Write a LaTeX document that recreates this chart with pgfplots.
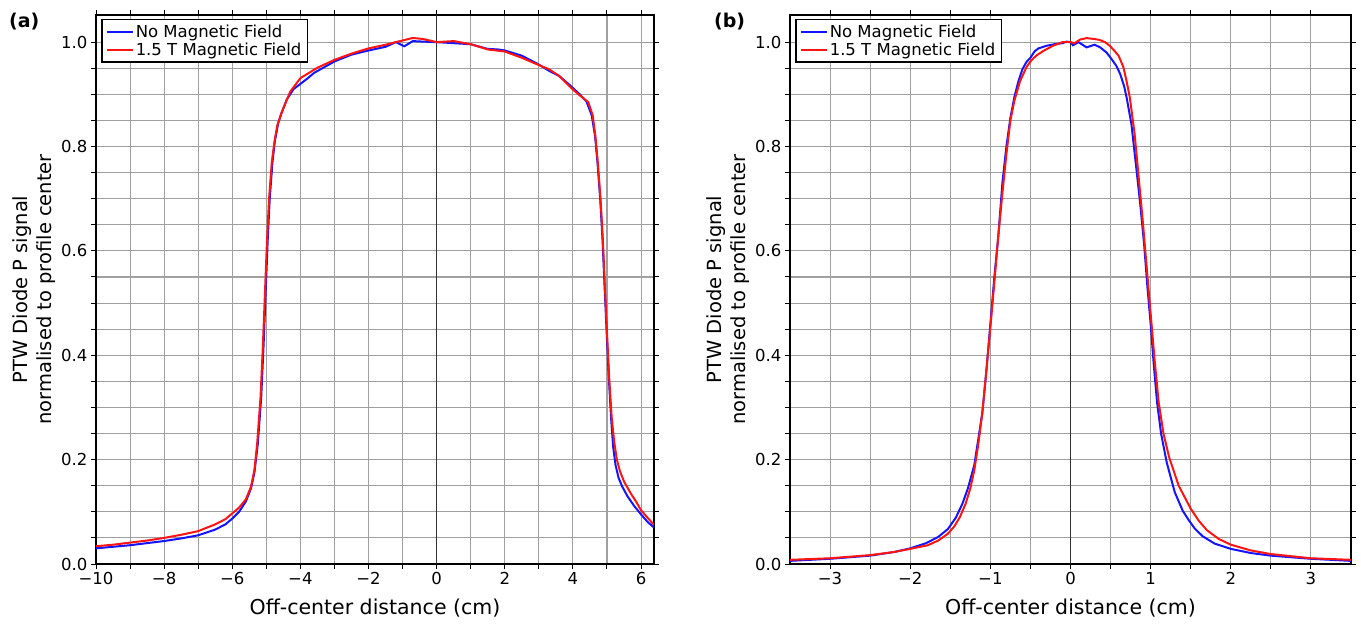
\documentclass[border=0pt]{standalone}
\usepackage{fontspec}
\setmainfont{DejaVu Sans}
\usepackage{pgfplots}
\pgfplotsset{compat=1.18}
\definecolor{pblue}{RGB}{20,20,255}
\definecolor{pred}{RGB}{255,20,20}
\definecolor{gridgray}{RGB}{160,160,160}
\pgfplotsset{
  panel/.style={
    scale only axis, height=549pt,
    ymin=0, ymax=1.052,
    ytick={0,0.2,0.4,0.6,0.8,1}, yticklabels={0.0,0.2,0.4,0.6,0.8,1.0},
    minor y tick num=3,
    grid=both,
    major grid style={gridgray, line width=1.1pt},
    minor grid style={gridgray, line width=1.1pt},
    tick align=outside,
    major tick length=5pt, minor tick length=5pt,
    every tick/.style={black, line width=1pt},
    axis line style={black, line width=1.5pt},
    ticklabel style={font=\fontsize{16.5}{19}\selectfont},
    every axis x label/.style={at={(axis description cs:0.5,0)}, yshift=-44pt, anchor=center, font=\fontsize{20.5}{24}\selectfont},
    every axis y label/.style={at={(axis description cs:0,0.5)}, xshift=-62pt, rotate=90, anchor=center, align=center, font=\fontsize{19.5}{23.5}\selectfont},
    extra x ticks={0}, extra x tick labels={},
    extra x tick style={grid=major, major grid style={black!80, line width=1pt}},
    legend style={at={(0,1)}, anchor=north west, xshift=5pt, yshift=-4pt, draw=black, line width=1.5pt,
      font=\fontsize{16.5}{19}\selectfont, inner xsep=4pt, inner ysep=3pt, row sep=0pt, cells={anchor=west}},
    legend image code/.code={\draw[#1] (0pt,0pt) -- (26pt,0pt);},
    xlabel={Off-center distance (cm)},
    ylabel={PTW Diode P signal\\normalised to profile center},
  }
}
\begin{document}
\begin{tikzpicture}
\useasboundingbox (0,0) rectangle (1361pt,627pt);
\begin{axis}[panel, at={(96pt,63pt)}, anchor=south west, width=558pt,
  xmin=-10, xmax=6.38,
  xtick={-10,-8,-6,-4,-2,0,2,4,6}, xticklabels={−10,−8,−6,−4,−2,0,2,4,6},
  minor x tick num=1]
\addplot[pblue, line width=2pt] table {
x y
-10 0.030
-9.5 0.033
-9 0.036
-8.5 0.040
-8 0.044
-7.5 0.049
-7 0.055
-6.5 0.066
-6.2 0.076
-6 0.087
-5.8 0.100
-5.6 0.120
-5.45 0.145
-5.35 0.175
-5.25 0.23
-5.15 0.32
-5.08 0.42
-5.02 0.52
-4.96 0.62
-4.9 0.70
-4.82 0.77
-4.75 0.81
-4.65 0.845
-4.55 0.865
-4.4 0.89
-4.2 0.91
-4.0 0.920
-3.8 0.930
-3.6 0.941
-3.3 0.952
-3.0 0.963
-2.5 0.976
-2.0 0.984
-1.5 0.991
-1.2 1.000
-0.95 0.992
-0.7 1.002
-0.4 1.001
0 1.0
0.5 0.998
1.0 0.996
1.5 0.987
1.8 0.986
2.0 0.984
2.5 0.974
3.0 0.957
3.3 0.945
3.6 0.935
3.9 0.918
4.0 0.912
4.2 0.900
4.4 0.886
4.55 0.860
4.65 0.82
4.72 0.77
4.8 0.70
4.87 0.62
4.93 0.53
5.0 0.43
5.06 0.35
5.12 0.28
5.18 0.225
5.25 0.19
5.34 0.165
5.45 0.148
5.6 0.130
5.8 0.111
6.0 0.095
6.2 0.080
6.38 0.070
};
\addlegendentry{No Magnetic Field}
\addplot[pred, line width=2pt] table {
x y
-10 0.034
-9.5 0.037
-9 0.041
-8.5 0.045
-8 0.050
-7.5 0.056
-7 0.063
-6.5 0.076
-6.2 0.086
-6 0.097
-5.8 0.108
-5.6 0.124
-5.45 0.148
-5.35 0.18
-5.27 0.23
-5.17 0.32
-5.1 0.42
-5.04 0.52
-4.98 0.62
-4.92 0.70
-4.84 0.77
-4.76 0.81
-4.68 0.84
-4.55 0.865
-4.3 0.905
-4.0 0.931
-3.5 0.951
-3.0 0.966
-2.5 0.978
-2.0 0.988
-1.5 0.995
-1.2 1.000
-0.7 1.008
-0.4 1.006
0 1.0
0.5 1.002
1.0 0.996
1.5 0.986
2.0 0.982
2.5 0.970
3.0 0.956
3.3 0.948
3.6 0.935
3.95 0.912
4.2 0.898
4.45 0.885
4.58 0.860
4.66 0.82
4.73 0.77
4.81 0.70
4.88 0.62
4.94 0.53
5.01 0.43
5.07 0.35
5.14 0.28
5.21 0.235
5.29 0.20
5.38 0.178
5.5 0.158
5.7 0.135
5.85 0.120
6.0 0.103
6.2 0.088
6.38 0.075
};
\addlegendentry{1.5 T Magnetic Field}
\end{axis}
\begin{axis}[panel, at={(790pt,63pt)}, anchor=south west, width=561pt,
  xmin=-3.5, xmax=3.5,
  xtick={-3,-2,-1,0,1,2,3}, xticklabels={−3,−2,−1,0,1,2,3},
  minor x tick num=1]
\addplot[pblue, line width=2pt] table {
x y
-3.5 0.006
-3.0 0.010
-2.5 0.016
-2.2 0.023
-2.0 0.030
-1.8 0.040
-1.65 0.052
-1.53 0.067
-1.43 0.089
-1.35 0.115
-1.28 0.145
-1.2 0.19
-1.14 0.25
-1.1 0.29
-1.05 0.37
-1.0 0.46
-0.95 0.55
-0.9 0.63
-0.85 0.73
-0.8 0.80
-0.75 0.855
-0.7 0.895
-0.65 0.925
-0.6 0.948
-0.55 0.962
-0.5 0.970
-0.45 0.982
-0.4 0.988
-0.3 0.993
-0.2 0.996
-0.1 0.998
-0.05 1.001
0.0 1.0
0.03 0.994
0.1 1.0
0.15 0.995
0.2 0.990
0.3 0.995
0.37 0.990
0.45 0.980
0.51 0.968
0.57 0.955
0.62 0.939
0.67 0.915
0.7 0.894
0.76 0.843
0.82 0.76
0.87 0.69
0.92 0.61
0.96 0.53
1.0 0.46
1.04 0.38
1.08 0.31
1.13 0.25
1.2 0.195
1.3 0.138
1.4 0.102
1.48 0.083
1.55 0.068
1.65 0.053
1.8 0.039
2.0 0.029
2.25 0.021
2.5 0.016
3.0 0.010
3.5 0.006
};
\addlegendentry{No Magnetic Field}
\addplot[pred, line width=2pt] table {
x y
-3.5 0.008
-3.0 0.011
-2.5 0.017
-2.2 0.023
-2.0 0.029
-1.78 0.036
-1.65 0.045
-1.53 0.058
-1.45 0.072
-1.38 0.090
-1.31 0.115
-1.25 0.145
-1.2 0.18
-1.15 0.23
-1.1 0.29
-1.05 0.37
-1.0 0.453
-0.95 0.54
-0.9 0.63
-0.85 0.71
-0.8 0.785
-0.75 0.85
-0.7 0.888
-0.63 0.925
-0.55 0.952
-0.49 0.965
-0.42 0.975
-0.34 0.983
-0.22 0.993
-0.1 1.0
0.0 1.0
0.05 0.998
0.12 1.005
0.2 1.0077
0.3 1.006
0.367 1.004
0.43 1.0
0.49 0.993
0.55 0.983
0.6 0.974
0.66 0.952
0.7 0.925
0.74 0.894
0.8 0.824
0.85 0.742
0.9 0.66
0.95 0.57
1.0 0.48
1.05 0.39
1.1 0.31
1.16 0.25
1.23 0.205
1.35 0.15
1.5 0.106
1.6 0.083
1.7 0.065
1.85 0.048
2.0 0.037
2.25 0.026
2.5 0.019
3.0 0.011
3.5 0.008
};
\addlegendentry{1.5 T Magnetic Field}
\end{axis}
\node[anchor=north west, font=\bfseries\fontsize{19}{22}\selectfont, inner sep=0pt] at (9pt,614pt) {(a)};
\node[anchor=north west, font=\bfseries\fontsize{19}{22}\selectfont, inner sep=0pt] at (714pt,614pt) {(b)};
\end{tikzpicture}
\end{document}
